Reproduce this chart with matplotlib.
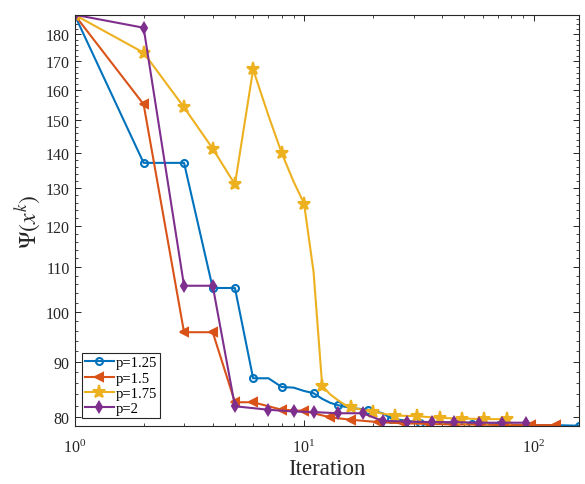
import matplotlib
matplotlib.use("Agg")
import matplotlib.pyplot as plt
import numpy as np
from matplotlib.ticker import FixedLocator, FixedFormatter, NullFormatter, LogLocator

plt.rcParams['font.family'] = 'serif'
plt.rcParams['font.serif'] = ['Liberation Serif', 'DejaVu Serif']
plt.rcParams['mathtext.fontset'] = 'stix'

# iterations where the curve has a visible vertex, and Psi(x^k) there
iter_125 = [1, 2, 3, 4, 5, 6, 7, 8, 9, 10, 11, 12, 13, 14, 16, 19, 22, 24, 32, 42, 54, 71, 93, 121, 157]
psi_125 = [187.6, 137.1, 137.1, 105.2, 105.2, 86.9, 86.9, 85.3, 85.2, 84.6, 84.2, 83.2, 82.5, 82.1,
           81.6, 81.3, 80.7, 79.8, 79.1, 78.9, 78.9, 78.8, 78.7, 78.7, 78.6]

iter_15 = [1, 2, 3, 4, 5, 6, 8, 10, 13, 16, 21, 27, 35, 45, 58, 75, 97, 125]
psi_15 = [187.6, 155.2, 95.8, 95.8, 82.6, 82.6, 81.3, 81.1, 80.0, 79.6, 79.2, 79.0, 78.9, 78.8,
          78.8, 78.7, 78.7, 78.7]

iter_175 = [1, 2, 3, 4, 5, 6, 7, 8, 9, 10, 11, 12, 13, 14, 15, 16, 20, 25, 31, 39, 49, 61, 77]
psi_175 = [187.6, 173.1, 154.2, 141.3, 131.0, 167.1, 151.5, 139.9, 131.8, 125.8, 108.9, 85.5, 84.0,
           83.0, 82.2, 81.7, 80.9, 80.3, 80.2, 79.9, 79.8, 79.7, 79.7]

iter_2 = [1, 2, 3, 4, 5, 7, 9, 11, 14, 18, 22, 28, 36, 45, 58, 73, 93]
psi_2 = [187.6, 182.5, 105.7, 105.7, 81.9, 81.3, 81.0, 80.9, 80.7, 80.7, 79.4, 79.3, 79.2, 79.2,
         79.1, 79.1, 79.1]

labels = ['p=1.25', 'p=1.5', 'p=1.75', 'p=2']
yticks = [80, 90, 100, 110, 120, 130, 140, 150, 160, 170, 180]


def marker_positions(iters, n_marks=20):
    # markers log-spaced along the iterations, like MarkerIndices in the original
    last = iters[-1]
    wanted = np.unique(np.floor(np.logspace(0, np.log10(last), n_marks) + 0.5).astype(int))
    return [iters.index(w) for w in wanted if w in iters]


fig = plt.figure(figsize=(5.85, 4.85), dpi=100)
ax = fig.add_axes([0.1274, 0.1202, 0.8615, 0.8474])

series = [
    (iter_125, psi_125, '#0072BD', 'o', 5, 'none'),
    (iter_15, psi_15, '#D95319', '<', 5.5, '#D95319'),
    (iter_175, psi_175, '#EDB120', '*', 9.5, '#EDB120'),
    (iter_2, psi_2, '#7E2F8E', 'd', 5.5, '#7E2F8E'),
]
for (it, psi, color, marker, ms, mfc), label in zip(series, labels):
    ax.plot(it, psi, color=color, lw=1.5, marker=marker, ms=ms, mfc=mfc, mec=color,
            mew=1.5, markevery=marker_positions(it), label=label)

ax.set_xscale('log')
ax.set_yscale('log')
ax.set_xlim(1, 157)
ax.set_ylim(78.6, 187.6)

ax.yaxis.set_major_locator(FixedLocator(yticks))
ax.yaxis.set_major_formatter(FixedFormatter([str(t) for t in yticks]))
ax.yaxis.set_minor_locator(FixedLocator([v for v in range(78, 188, 2) if v % 10]))
ax.yaxis.set_minor_formatter(NullFormatter())
ax.xaxis.set_major_locator(LogLocator(base=10))
ax.xaxis.set_minor_locator(LogLocator(base=10, subs=np.arange(2, 10)))
ax.xaxis.set_minor_formatter(NullFormatter())

ax.tick_params(which='both', direction='in', top=True, right=True, colors='#262626',
               labelsize=11.5, labelcolor='#262626')
ax.tick_params(which='major', length=4, width=0.7)
ax.tick_params(which='minor', length=2.2, width=0.6)
ax.tick_params(axis='x', pad=9)
for sp in ax.spines.values():
    sp.set_color('#262626')
    sp.set_linewidth(0.8)

ax.set_xlabel('Iteration', fontsize=16.5, color='#262626', labelpad=2)
ax.set_ylabel(r'$\Psi(x^k)$', fontsize=17, color='#262626', labelpad=2)

leg = ax.legend(loc='lower left', fontsize=10.5, frameon=True, fancybox=False, framealpha=1,
                edgecolor='#262626', borderaxespad=0.5, borderpad=0.2, labelspacing=0.15,
                handlelength=2.0, handletextpad=0.15)
leg.get_frame().set_linewidth(0.8)

fig.savefig('out.png', dpi=100)
